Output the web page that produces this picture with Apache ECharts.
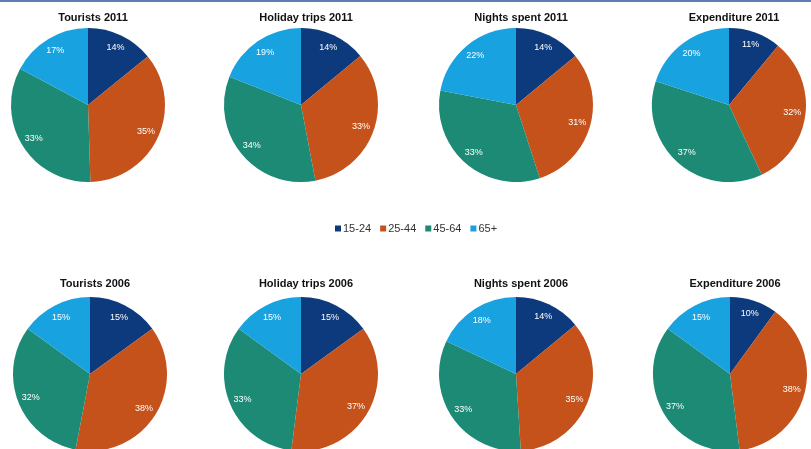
<!DOCTYPE html>
<html><head><meta charset="utf-8">
<script src="https://cdn.jsdelivr.net/npm/echarts@6/dist/echarts.min.js"></script>
<style>html,body{margin:0;padding:0;background:#fff}#c{width:811px;height:449px}</style>
</head><body><div id="c"></div>
<script>
const ageGroups = ['15-24', '25-44', '45-64', '65+'];
const chartTitles = ['Tourists 2011', 'Holiday trips 2011', 'Nights spent 2011', 'Expenditure 2011',
                     'Tourists 2006', 'Holiday trips 2006', 'Nights spent 2006', 'Expenditure 2006'];
const tourists2011 = [14, 35, 33, 17];
const holiday2011 = [14, 33, 34, 19];
const nights2011 = [14, 31, 33, 22];
const expenditure2011 = [11, 32, 37, 20];
const tourists2006 = [15, 38, 32, 15];
const holiday2006 = [15, 37, 33, 15];
const nights2006 = [14, 35, 33, 18];
const expenditure2006 = [10, 38, 37, 15];
const allValues = [tourists2011, holiday2011, nights2011, expenditure2011,
                   tourists2006, holiday2006, nights2006, expenditure2006];

const colors = ['#0D3A7C', '#C5521B', '#1C8A75', '#18A2DF'];
const centersX = [88, 301, 516, 729, 90, 301, 516, 730];
const centersY = [105, 105, 105, 105, 374, 374, 374, 374];
const R = 77;

const chart = echarts.init(document.getElementById('c'));
const series = [];
const titles = [];
allValues.forEach((vals, i) => {
  const data = vals.map((v, k) => ({ name: ageGroups[k], value: v }));
  series.push({
    type: 'pie', center: [centersX[i], centersY[i]], radius: [0, R],
    startAngle: 90, clockwise: true, silent: true, animation: false,
    label: { show: false }, labelLine: { show: false },
    itemStyle: { borderWidth: 0 },
    data: data
  });
  series.push({
    type: 'pie', center: [centersX[i], centersY[i]], radius: [R * 0.58, R],
    startAngle: 90, clockwise: true, silent: true, animation: false,
    legendHoverLink: false,
    itemStyle: { color: 'rgba(0,0,0,0)', borderWidth: 0 },
    label: { show: true, position: 'inside', formatter: '{c}%', color: '#fff',
             fontSize: 9, fontFamily: 'Liberation Sans, Arial, sans-serif' },
    labelLine: { show: false },
    data: data.map(d => ({ name: d.name + ' ', value: d.value }))
  });
  titles.push({
    text: chartTitles[i], left: centersX[i], top: (i < 4 ? 14 : 280) - 7,
    textAlign: 'center',
    textStyle: { fontSize: 11, fontWeight: 'bold', color: '#111', fontFamily: 'Liberation Sans, Arial, sans-serif' }
  });
});

chart.setOption({
  backgroundColor: '#fff',
  color: colors,
  title: titles,
  legend: {
    data: ageGroups, left: 330, top: 218,
    icon: 'rect', itemWidth: 6, itemHeight: 6, itemGap: 9,
    textStyle: { fontSize: 11, color: '#333', fontFamily: 'Liberation Sans, Arial, sans-serif', padding: [0,0,0,-3] }
  },
  graphic: [{ type: 'rect', shape: { x: 0, y: 0, width: 811, height: 2 }, style: { fill: '#5B7DB0' } }],
  series: series
});
</script></body></html>
